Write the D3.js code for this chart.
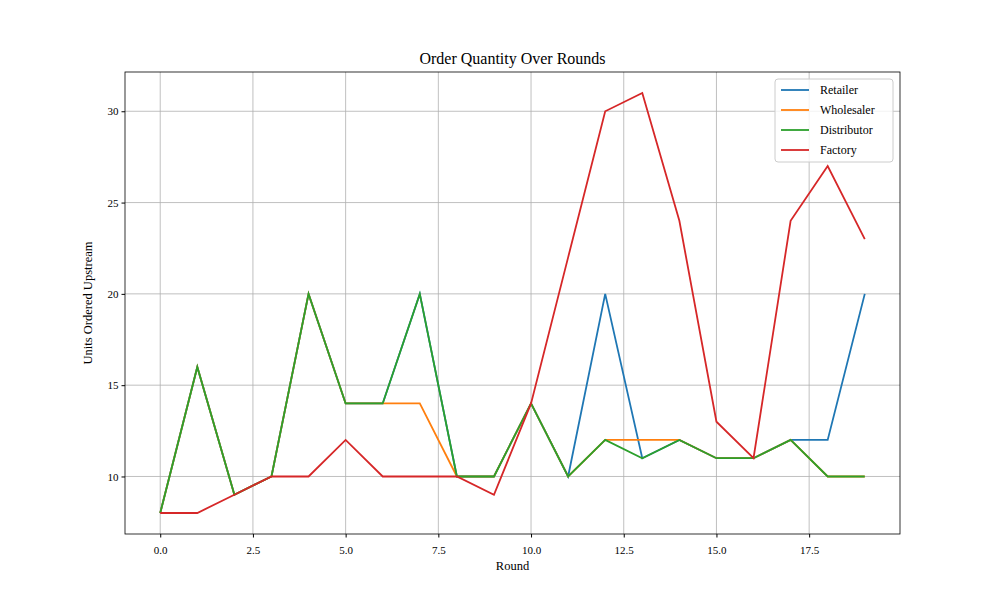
<!DOCTYPE html>
<html><head><meta charset="utf-8">
<script src="https://cdn.jsdelivr.net/npm/d3@7"></script>
<style>body{margin:0;background:#fff}text{font-family:"Liberation Serif","DejaVu Serif",serif}</style>
</head><body><svg id="c" width="1000" height="600"></svg>
<script>
const rounds = d3.range(0, 20);
const seriesNames = ["Retailer", "Wholesaler", "Distributor", "Factory"];
const colors = ["#1f77b4", "#ff7f0e", "#2ca02c", "#d62728"];
const retailer =    [8,16,9,10,20,14,14,20,10,10,14,10,20,11,12,11,11,12,12,20];
const wholesaler =  [8,16,9,10,20,14,14,14,10,10,14,10,12,12,12,11,11,12,10,10];
const distributor = [8,16,9,10,20,14,14,20,10,10,14,10,12,11,12,11,11,12,10,10];
const factory =     [8,8,9,10,10,12,10,10,10,9,14,22,30,31,24,13,11,24,27,23];
const xTicks = [0,2.5,5,7.5,10,12.5,15,17.5];
const yTicks = [10,15,20,25,30];
const data = [retailer, wholesaler, distributor, factory];

const svg = d3.select("#c");
const L=125,R=900,T=72,B=534;
const x = d3.scaleLinear().domain([-0.95,19.95]).range([L,R]);
const y = d3.scaleLinear().domain([6.85,32.15]).range([B,T]);

const g = svg.append("g");
g.selectAll(".gx").data(xTicks).enter().append("line").attr("x1",d=>x(d)).attr("x2",d=>x(d)).attr("y1",T).attr("y2",B).attr("stroke","#b0b0b0").attr("stroke-width",0.8);
g.selectAll(".gy").data(yTicks).enter().append("line").attr("y1",d=>y(d)).attr("y2",d=>y(d)).attr("x1",L).attr("x2",R).attr("stroke","#b0b0b0").attr("stroke-width",0.8);

const xa = svg.append("g").attr("transform",`translate(0,${B})`).call(d3.axisBottom(x).tickValues(xTicks).tickFormat(d3.format(".1f")).tickSize(3.5));
const ya = svg.append("g").attr("transform",`translate(${L},0)`).call(d3.axisLeft(y).tickValues(yTicks).tickFormat(d3.format("d")).tickSize(3.5));
[xa,ya].forEach(a=>{a.select(".domain").remove();a.selectAll("text").attr("font-size",11).attr("fill","#000").style("font-family","Liberation Serif, serif");a.selectAll("line").attr("stroke","#000");});
xa.selectAll("text").attr("dy","1.2em");

const line = d3.line().x((d,i)=>x(rounds[i])).y(d=>y(d));
data.forEach((s,i)=>svg.append("path").attr("d",line(s)).attr("fill","none").attr("stroke",colors[i]).attr("stroke-width",1.8));

svg.append("rect").attr("x",L).attr("y",T).attr("width",R-L).attr("height",B-T).attr("fill","none").attr("stroke","#000").attr("stroke-width",0.8);

svg.append("text").attr("x",(L+R)/2).attr("y",64).attr("text-anchor","middle").attr("font-size",16).text("Order Quantity Over Rounds");
svg.append("text").attr("x",(L+R)/2).attr("y",570).attr("text-anchor","middle").attr("font-size",12.5).text("Round");
svg.append("text").attr("transform",`translate(92,${(T+B)/2}) rotate(-90)`).attr("text-anchor","middle").attr("font-size",12.5).text("Units Ordered Upstream");

const lg = svg.append("g").attr("transform","translate(775,79)");
lg.append("rect").attr("width",118).attr("height",83).attr("rx",3).attr("fill","#fff").attr("fill-opacity",0.8).attr("stroke","#ccc");
seriesNames.forEach((n,i)=>{
  const yy=11+i*20;
  lg.append("line").attr("x1",6).attr("x2",34).attr("y1",yy).attr("y2",yy).attr("stroke",colors[i]).attr("stroke-width",1.8);
  lg.append("text").attr("x",45).attr("y",yy+4).attr("font-size",12).text(n);
});
</script></body></html>
